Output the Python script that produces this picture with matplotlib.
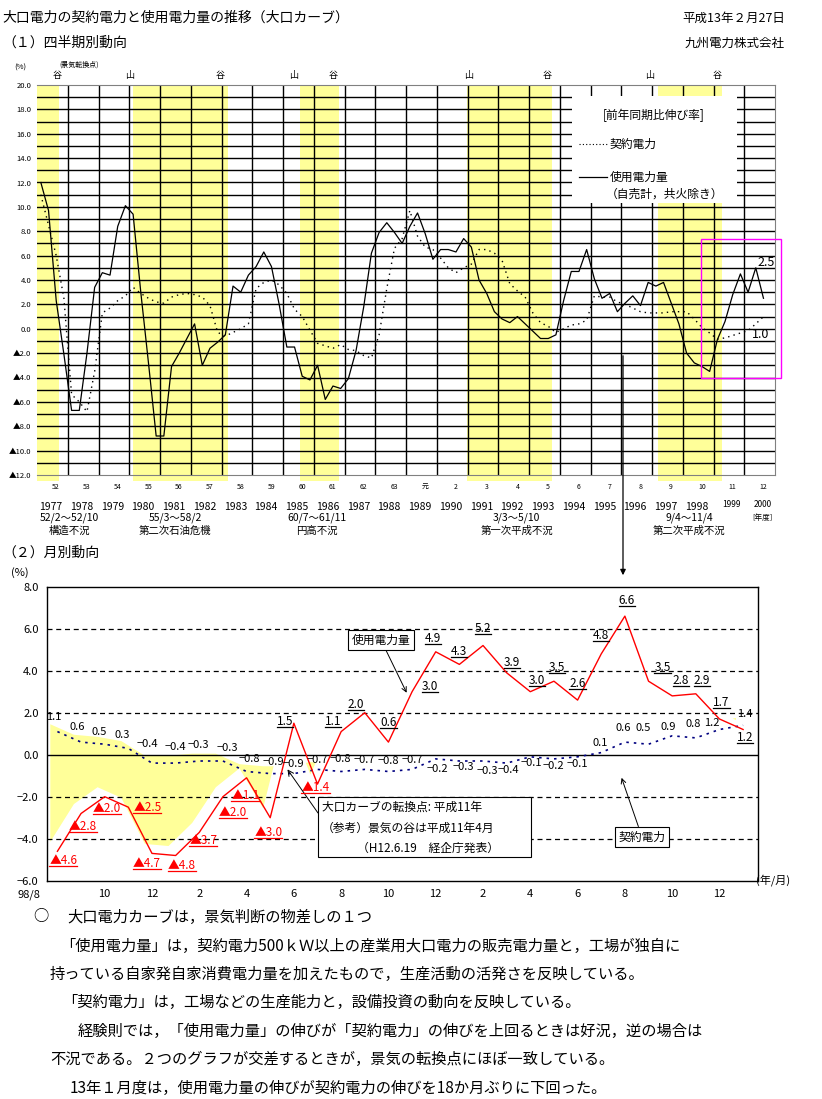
import numpy as np
import matplotlib
matplotlib.use("Agg")
import matplotlib.pyplot as plt
from matplotlib.patches import Rectangle, FancyArrowPatch
from matplotlib.lines import Line2D
from matplotlib.transforms import ScaledTranslation

plt.rcParams['font.family'] = ['Noto Sans CJK JP', 'DejaVu Sans']

W, H = 822, 1099

# ---- (1) quarterly data, fiscal years 1977-2000 ----
fiscal_years = list(range(1977, 2001))
era_labels = ['52', '53', '54', '55', '56', '57', '58', '59', '60', '61', '62', '63',
              '元', '2', '3', '4', '5', '6', '7', '8', '9', '10', '11', '12']
usage_q = [12.0, 9.7, 2.3, -2.1,
           -6.7, -6.7, -2.0, 3.4,
           4.6, 4.4, 8.4, 10.1,
           9.4, 3.0, -2.8, -8.8,
           -8.8, -3.1, -2.0, -0.8,
           0.4, -3.0, -1.6, -1.1,
           -0.5, 3.5, 3.0, 4.4,
           5.1, 6.3, 5.1, 2.0,
           -1.5, -1.5, -3.9, -4.2,
           -3.0, -5.8, -4.7, -4.9,
           -4.1, -1.8, 1.8, 6.2,
           7.9, 8.7, 7.9, 7.0,
           8.4, 9.5, 7.8, 5.7,
           6.5, 6.5, 6.3, 7.4,
           6.7, 4.0, 2.9, 1.4,
           0.8, 0.5, 1.0, 0.4,
           -0.2, -0.8, -0.8, -0.5,
           2.3, 4.7, 4.7, 6.5,
           4.1, 2.5, 2.9, 1.4,
           2.1, 2.7, 1.9, 3.8,
           3.5, 3.8, 2.1, 0.4,
           -2.0, -2.8, -3.1, -3.5,
           -0.9, 0.6, 2.8, 4.5,
           3.0, 5.0, 2.5]
contract_q = [11.0, 8.5, 6.0, 2.5,
              -5.4, -6.0, -6.8, -3.5,
              1.3, 1.7, 2.3, 2.7,
              3.4, 2.9, 2.5, 2.2,
              2.1, 2.6, 2.8, 2.9,
              2.8, 2.6, 1.9, -0.3,
              -0.6, -0.3, 0.0, 0.4,
              3.3, 3.8, 4.0, 3.6,
              2.9, 1.6, 1.0, -0.1,
              -1.2, -1.4, -1.6, -1.3,
              -1.7, -1.8, -2.2, -2.4,
              -0.5, 3.3, 6.6, 7.4,
              9.7, 7.6, 6.7, 6.5,
              5.8, 5.0, 4.6, 5.0,
              5.3, 6.5, 6.5, 6.2,
              5.6, 3.7, 3.1, 2.6,
              1.3, 0.5, 0.2, -0.3,
              0.0, 0.3, 0.4, 0.7,
              2.7, 2.6, 2.6, 2.2,
              2.0, 1.7, 1.4, 1.3,
              1.3, 1.3, 1.4, 1.4,
              1.4, 0.8, 0.1, -0.35,
              -0.85, -0.75, -0.55, -0.35,
              -0.15, 0.4, 1.0]

# recession periods (fiscal-year position) and their labels
recessions = [(1977.0, 1977.72), (1980.12, 1983.21), (1985.55, 1986.82),
              (1990.98, 1993.75), (1997.2, 1999.28)]
recession_dates = ['52/2～52/10', '55/3～58/2', '60/7～61/11', '3/3～5/10', '9/4～11/4']
recession_names = ['構造不況', '第二次石油危機', '円高不況', '第一次平成不況', '第二次平成不況']
recession_label_x = [1978.05, 1981.5, 1986.1, 1992.6, 1998.2]

turning_x = [1977.65, 1980.02, 1982.95, 1985.33, 1986.63, 1991.02, 1993.59, 1996.93, 1999.11]
turning_lbl = ['谷', '山', '谷', '山', '谷', '山', '谷', '山', '谷']

# ---- (2) monthly data, 98/8 - 01/1 ----
usage_m = [-4.6, -2.8, -2.0, -2.5, -4.7, -4.8, -3.7, -2.0, -1.1, -3.0, 1.5, -1.4,
           1.1, 2.0, 0.6, 3.0, 4.9, 4.3, 5.2, 3.9, 3.0, 3.5, 2.6, 4.8, 6.6, 3.5,
           2.8, 2.9, 1.7, 1.2]
contract_m = [1.1, 0.6, 0.5, 0.3, -0.4, -0.4, -0.3, -0.3, -0.8, -0.9, -0.9, -0.7,
              -0.8, -0.7, -0.8, -0.7, -0.2, -0.3, -0.3, -0.4, -0.1, -0.2, -0.1, 0.1,
              0.6, 0.5, 0.9, 0.8, 1.2, 1.4]
month_ticks = ['98/8', '10', '12', '2', '4', '6', '8', '10', '12', '2', '4', '6', '8', '10', '12']

# label offsets in pixels (dx, dy up)
usage_off = [(6, -9), (2, -13), (2, -12), (19, 0), (-5, -10), (6, -10), (4, -8), (10, -16),
             (-1, -18), (-2, -15), (-9, 2), (-2, -3), (-8, 10), (-9, 8), (0, 20), (18, 5),
             (-3, 13), (0, 13), (0, 17), (5, 10), (7, 11), (3, 14), (0, 17), (0, 18),
             (2, 16), (14, 14), (9, 15), (6, 13), (2, 17), (2, -8)]
contract_off = [(-4, 15), (-4, 15), (-6, 12), (-6, 13), (-5, 19), (0, 16), (-1, 16), (4, 13),
                (3, 12), (3, 12), (0, 10), (0, 9), (-1, 12), (0, 9), (0, 11), (0, 9),
                (2, -10), (4, -6), (4, -10), (2, -7), (1, -6), (-1, -7), (0, -7), (-1, 10),
                (-2, 14), (-5, 16), (-4, 9), (-3, 14), (-8, 6), (2, 11)]


def fx(x):
    return x / W


def fy(y):
    return 1 - y / H


def ftext(x, y, s, size, ha='left', **kw):
    return fig.text(fx(x), fy(y), s, ha=ha, va='center', fontsize=size, **kw)


fig = plt.figure(figsize=(W / 100, H / 100), dpi=100)

# header
ftext(2, 18, '大口電力の契約電力と使用電力量の推移（大口カーブ）', 10)
ftext(785, 18, '平成13年２月27日', 9, ha='right')
ftext(2, 43, '（１）四半期別動向', 10)
ftext(785, 43, '九州電力株式会社', 9, ha='right')

# ---------------- quarterly chart ----------------
ax1 = fig.add_axes([fx(37), fy(475), 738 / W, 390 / H])
ax1.set_xlim(1977, 2001)
ax1.set_ylim(-12, 20)
for a, b in recessions:
    ax1.axvspan(a, b, ymin=-0.015, ymax=1, color='#FFFF99', lw=0, zorder=0, clip_on=False)
for v in range(-11, 20):
    ax1.axhline(v, color='black', lw=1.0, zorder=1)
for yr in fiscal_years[1:]:
    ax1.axvline(yr, color='black', lw=1.0, zorder=1)

qx = 1977 + (np.arange(len(usage_q)) + 0.5) / 4
ax1.plot(qx, contract_q, color='black', lw=1.0, ls=(0, (1, 3)), zorder=3)
ax1.plot(qx, usage_q, color='black', lw=0.9, zorder=3)

for s in ['top', 'right', 'bottom']:
    ax1.spines[s].set_color('#808080')
ax1.spines['left'].set_visible(False)
ax1.set_xticks([])
yt = list(range(20, -13, -2))
ax1.set_yticks(yt)
ax1.set_yticklabels([f'{v:.1f}' if v >= 0 else f'▲{-v:.1f}' for v in yt], fontsize=5.5)
ax1.tick_params(axis='y', length=0, pad=4)

ftext(20, 68, '(%)', 5.5, ha='center')
ftext(79, 65, '(景気転換点)', 5, ha='center')
for x, s in zip(turning_x, turning_lbl):
    ax1.text(x, 1.012, s, transform=ax1.get_xaxis_transform(), ha='center', va='bottom', fontsize=6.5)

# labels under the chart
for yr, e in zip(fiscal_years, era_labels):
    ax1.text(yr + 0.62, -0.03, e, transform=ax1.get_xaxis_transform(), ha='center', va='center', fontsize=5)
for yr in fiscal_years:
    size, dy, off = (7.5, -0.082, 0.45) if yr < 1999 else (6, -0.075, 0.6)
    ax1.text(yr + off, dy, str(yr), transform=ax1.get_xaxis_transform(), ha='center', va='center', fontsize=size)
ax1.text(2000.6, -0.11, '[年度]', transform=ax1.get_xaxis_transform(), ha='center', va='center', fontsize=5.5)
for x, d, n in zip(recession_label_x, recession_dates, recession_names):
    ax1.text(x, -0.11, d, transform=ax1.get_xaxis_transform(), ha='center', va='center', fontsize=7.5)
    ax1.text(x, -0.142, n, transform=ax1.get_xaxis_transform(), ha='center', va='center', fontsize=7.5)

# legend box
fig.add_artist(Rectangle((fx(572), fy(203)), 165 / W, 107 / H, transform=fig.transFigure,
                         fc='white', ec='none', zorder=2))
ftext(654, 115, '[前年同期比伸び率]', 8.5, ha='center', zorder=3)
fig.add_artist(Line2D([fx(579), fx(607)], [fy(144), fy(144)], color='black', lw=0.8, ls=(0, (1, 2)), zorder=3))
ftext(610, 144, '契約電力', 8.5, zorder=3)
fig.add_artist(Line2D([fx(579), fx(607)], [fy(177), fy(177)], color='black', lw=0.9, zorder=3))
ftext(610, 177, '使用電力量', 8.5, zorder=3)
ftext(606, 194, '（自売計，共火除き）', 8.5, zorder=3)

# magenta frame around the latest quarters
fig.add_artist(Rectangle((fx(701), fy(378)), 80 / W, 139 / H, transform=fig.transFigure,
                         fill=False, ec='#FF00FF', lw=1.0, zorder=4))
ftext(766, 262, '2.5', 9, ha='center', zorder=5)
ftext(761, 335, '1.0', 9, ha='center', zorder=5)

# arrow from quarterly to monthly
fig.add_artist(FancyArrowPatch((fx(623), fy(353)), (fx(623), fy(578)), transform=fig.transFigure,
                               arrowstyle='-|>', mutation_scale=8, lw=0.9, color='black', zorder=4))

# ---------------- monthly chart ----------------
ftext(2, 553, '（２）月別動向', 10)
ftext(20, 573, '(%)', 8, ha='center')

ax2 = fig.add_axes([fx(47), fy(880.7), 711 / W, 294 / H])
ax2.set_xlim(-0.44, 29.63)
ax2.set_ylim(-6, 8)
mx = np.arange(len(usage_m))
um = np.array(usage_m)
cm = np.array(contract_m)
ax2.fill_between(mx - 0.3, um + 0.45, cm + 0.35, where=um < cm, interpolate=True,
                 color='#FFFF99', lw=0, zorder=1)
for v in [6, 4, 2, -2, -4]:
    ax2.axhline(v, color='black', lw=0.9, ls=(0, (4, 3)), zorder=2)
ax2.axhline(0, color='black', lw=1.0, zorder=2)
ax2.plot(mx, cm, color='#000080', lw=1.2, ls=(0, (1.5, 3)), zorder=3)
ax2.plot(mx, um, color='red', lw=1.0, zorder=3)

ax2.set_yticks(range(8, -7, -2))
ax2.set_yticklabels([f'{v:.1f}'.replace('-', '−') for v in range(8, -7, -2)], fontsize=8)
ax2.set_xticks(range(0, 30, 2))
ax2.set_xticklabels(month_ticks, fontsize=8)
ax2.tick_params(length=0, pad=6)
first = ax2.get_xticklabels()[0]
first.set_transform(first.get_transform() + ScaledTranslation(-0.28, 0, fig.dpi_scale_trans))
for s in ax2.spines.values():
    s.set_linewidth(1.0)
ftext(773, 880, '(年/月)', 8, ha='center')

# value labels
underlined = []
for i, v in enumerate(usage_m):
    s, col = (f'▲{-v:.1f}', 'red') if v < 0 else (f'{v:.1f}', 'black')
    dx, dy = usage_off[i]
    t = ax2.annotate(s, (i, v), xytext=(dx * 0.72, dy * 0.72), textcoords='offset points',
                     ha='center', va='center', fontsize=8.5, color=col, zorder=5)
    underlined.append((t, col))
for i, v in enumerate(contract_m):
    dx, dy = contract_off[i]
    ax2.annotate(f'{v:.1f}'.replace('-', '−'), (i, v), xytext=(dx * 0.72, dy * 0.72),
                 textcoords='offset points', ha='center', va='center', fontsize=8, zorder=5)

box = dict(boxstyle='square,pad=0.3', fc='white', ec='black', lw=0.8)
arrow = dict(arrowstyle='->', color='black', lw=0.7, shrinkA=0, shrinkB=0)
ax2.annotate('使用電力量', (14.77, 2.95), xytext=(fx(381), fy(640)), textcoords='figure fraction',
             ha='center', va='center', fontsize=8.5, bbox=box, arrowprops=arrow, zorder=6)
ax2.annotate('契約電力', (23.86, -1.1), xytext=(fx(642), fy(837)), textcoords='figure fraction',
             ha='center', va='center', fontsize=8.5, bbox=box, arrowprops=arrow, zorder=6)
ax2.annotate('', (9.73, -0.7), xytext=(fx(318), fy(813)), textcoords='figure fraction',
             arrowprops=arrow, zorder=6)
fig.add_artist(Rectangle((fx(318), fy(857)), 213 / W, 60 / H, transform=fig.transFigure,
                         fc='white', ec='black', lw=0.8, zorder=2))
ftext(322, 807, '大口カーブの転換点: 平成11年', 8.5, zorder=3)
ftext(322, 828, '（参考）景気の谷は平成11年4月', 8.5, zorder=3)
ftext(428, 848, '（H12.6.19　経企庁発表）', 8.5, ha='center', zorder=3)

# notes
ftext(33, 917, '○', 11)
ftext(67, 917, '大口電力カーブは，景気判断の物差しの１つ', 11)
ftext(60, 946, '「使用電力量」は，契約電力500ｋＷ以上の産業用大口電力の販売電力量と，工場が独自に', 11)
ftext(50, 974, '持っている自家発自家消費電力量を加えたもので，生産活動の活発さを反映している。', 11)
ftext(62, 1002, '「契約電力」は，工場などの生産能力と，設備投資の動向を反映している。', 11)
ftext(78, 1031, '経験則では，「使用電力量」の伸びが「契約電力」の伸びを上回るときは好況，逆の場合は', 11)
ftext(50, 1059, '不況である。２つのグラフが交差するときが，景気の転換点にほぼ一致している。', 11)
ftext(70, 1088, '13年１月度は，使用電力量の伸びが契約電力の伸びを18か月ぶりに下回った。', 11)

# underline the monthly usage labels
fig.canvas.draw()
r = fig.canvas.get_renderer()
for t, col in underlined:
    bb = t.get_window_extent(r)
    yy = (bb.y0 + 1) / fig.bbox.height
    fig.add_artist(Line2D([bb.x0 / fig.bbox.width, bb.x1 / fig.bbox.width], [yy, yy],
                          color=col, lw=0.9, zorder=6))

fig.savefig('out.png', dpi=100)
